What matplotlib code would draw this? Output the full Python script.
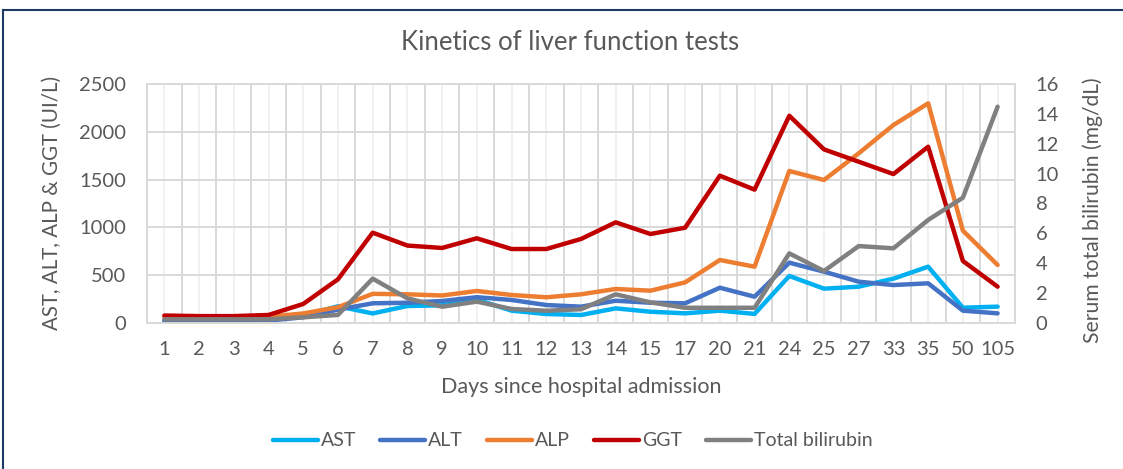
import numpy as np
import matplotlib.pyplot as plt
from matplotlib.lines import Line2D

plt.rcParams['font.family'] = ['Lato', 'DejaVu Sans']

# data
days = ["1", "2", "3", "4", "5", "6", "7", "8", "9", "10", "11", "12", "13",
        "14", "15", "17", "20", "21", "24", "25", "27", "33", "35", "50", "105"]
ast = [30, 30, 30, 35, 80, 175, 100, 178, 185, 245, 129, 94, 84, 153, 118,
       101, 129, 95, 492, 359, 380, 464, 589, 160, 171]
alt = [20, 20, 20, 25, 60, 140, 206, 212, 230, 270, 241, 188, 171, 233, 212,
       206, 369, 275, 631, 537, 432, 397, 415, 129, 101]
alp = [65, 62, 62, 65, 100, 165, 305, 300, 288, 335, 293, 269, 300, 356, 338,
       425, 659, 589, 1590, 1496, 1775, 2071, 2298, 966, 607]
ggt = [78, 72, 72, 84, 199, 457, 945, 810, 785, 886, 774, 774, 879, 1053,
       931, 997, 1541, 1395, 2168, 1816, 1687, 1558, 1844, 649, 380]
bili = [0.25, 0.25, 0.25, 0.25, 0.38, 0.54, 2.97, 1.65, 1.09, 1.43, 0.94,
        0.82, 0.92, 1.92, 1.38, 1.02, 1.02, 1.02, 4.66, 3.48, 5.15, 5.0, 6.9,
        8.39, 14.48]

text_col = "#595959"
grid_col = "#d9d9d9"

fig = plt.figure(figsize=(11.23, 4.69), dpi=100)
ax = fig.add_axes([0.1309, 0.3113, 0.7729, 0.5096])
ax2 = ax.twinx()

x = np.arange(len(days))
lw = 3.2
ax.plot(x, ast, color="#00b0f0", lw=lw, label="AST", solid_capstyle="round")
ax.plot(x, alt, color="#4472c4", lw=lw, label="ALT", solid_capstyle="round")
ax.plot(x, alp, color="#ed7d31", lw=lw, label="ALP", solid_capstyle="round")
ax.plot(x, ggt, color="#c00000", lw=lw, label="GGT", solid_capstyle="round")
ax2.plot(x, bili, color="#808080", lw=lw, label="Total bilirubin", solid_capstyle="round")

ax.set_xlim(-0.5, len(days) - 0.5)
ax.set_ylim(0, 2500)
ax.set_yticks(np.arange(0, 2501, 500))
ax2.set_ylim(0, 16)
ax2.set_yticks(np.arange(0, 17, 2))

ax.set_xticks(x)
ax.set_xticklabels(days)
ax.set_xticks(np.arange(-0.5, len(days), 1), minor=True)

# gridlines: light at category centres, darker at boundaries
ax.grid(axis="x", which="major", color="#efefef", lw=1.2)
ax.grid(axis="x", which="minor", color=grid_col, lw=1.4)
ax.grid(axis="y", which="major", color=grid_col, lw=1.4)
ax.set_axisbelow(True)

for a in (ax, ax2):
    for s in a.spines.values():
        s.set_color(grid_col)
        s.set_linewidth(1.2)
    a.tick_params(which="both", length=0, colors=text_col, labelsize=14.5)
ax.tick_params(axis="y", pad=15)
ax.tick_params(axis="x", pad=13)
ax2.tick_params(axis="y", pad=15)

ax.set_ylabel("AST, ALT, ALP & GGT (UI/L)", color=text_col, fontsize=14.8)
ax.yaxis.set_label_coords(-0.098, 0.5)
ax2.set_ylabel("Serum total bilirubin (mg/dL)", color=text_col, fontsize=15.2)
ax2.yaxis.set_label_coords(1.078, 0.47)
ax.set_xlabel("Days since hospital admission", color=text_col, fontsize=15.5)
ax.xaxis.set_label_coords(0.5, -0.228)

fig.text(0.5076, 0.91, "Kinetics of liver function tests", ha="center",
         va="center", fontsize=18.5, color=text_col)

handles = ax.get_lines() + ax2.get_lines()
fig.legend(handles, [h.get_label() for h in handles], loc="center",
           bbox_to_anchor=(0.51, 0.06), ncol=5, frameon=False, fontsize=14,
           labelcolor=text_col, handlelength=2.3, handletextpad=0.15,
           columnspacing=1.25)

# outer chart border (left and top)
border = "#1f3864"
fig.add_artist(Line2D([0.003, 1.0], [0.979, 0.979], color=border, lw=1.5,
                      transform=fig.transFigure))
fig.add_artist(Line2D([0.003, 0.003], [0.0, 0.979], color=border, lw=1.5,
                      transform=fig.transFigure))

fig.savefig("out.png", dpi=100)
